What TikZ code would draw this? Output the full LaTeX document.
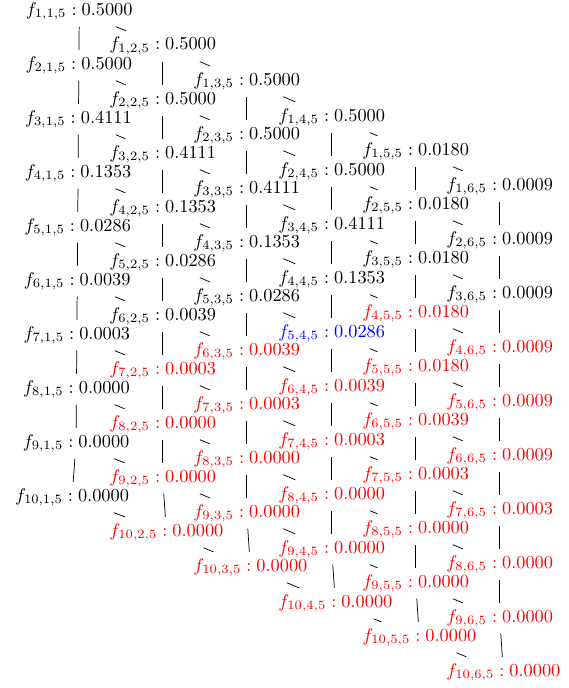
\documentclass[tikz,border=0pt]{standalone}
\usepackage{tikz}
\usepackage{amsmath}
\begin{document}
\begin{tikzpicture}[x=0.5464pt, y=-0.5464pt]
    \useasboundingbox (0,0) rectangle (568,688);
    % column 1 is right aligned, the others left aligned
    \foreach \i/\v/\c in {1/0.5000/black, 2/0.5000/black, 3/0.4111/black, 4/0.1353/black, 5/0.0286/black, 6/0.0039/black, 7/0.0003/black, 8/0.0000/black, 9/0.0000/black, 10/0.0000/black}
        \node[\c, anchor=base east] (f\i-1) at ({139-0.4*(\i-1)}, {15+54*(\i-1)}) {$f_{\i,1,5} : \v$};
    \foreach \i/\v/\c in {1/0.5000/black, 2/0.5000/black, 3/0.4111/black, 4/0.1353/black, 5/0.0286/black, 6/0.0039/black, 7/0.0003/red, 8/0.0000/red, 9/0.0000/red, 10/0.0000/red}
        \node[\c, anchor=base west] (f\i-2) at (103, {50+54*(\i-1)}) {$f_{\i,2,5} : \v$};
    \foreach \i/\v/\c in {1/0.5000/black, 2/0.5000/black, 3/0.4111/black, 4/0.1353/black, 5/0.0286/black, 6/0.0039/red, 7/0.0003/red, 8/0.0000/red, 9/0.0000/red, 10/0.0000/red}
        \node[\c, anchor=base west] (f\i-3) at (187, {85+54*(\i-1)}) {$f_{\i,3,5} : \v$};
    \foreach \i/\v/\c in {1/0.5000/black, 2/0.5000/black, 3/0.4111/black, 4/0.1353/black, 5/0.0286/blue, 6/0.0039/red, 7/0.0003/red, 8/0.0000/red, 9/0.0000/red, 10/0.0000/red}
        \node[\c, anchor=base west] (f\i-4) at (272, {121+54*(\i-1)}) {$f_{\i,4,5} : \v$};
    \foreach \i/\v/\c in {1/0.0180/black, 2/0.0180/black, 3/0.0180/black, 4/0.0180/red, 5/0.0180/red, 6/0.0039/red, 7/0.0003/red, 8/0.0000/red, 9/0.0000/red, 10/0.0000/red}
        \node[\c, anchor=base west] (f\i-5) at (356, {155+54*(\i-1)}) {$f_{\i,5,5} : \v$};
    \foreach \i/\v/\c in {1/0.0009/black, 2/0.0009/black, 3/0.0009/black, 4/0.0009/red, 5/0.0009/red, 6/0.0009/red, 7/0.0003/red, 8/0.0000/red, 9/0.0000/red, 10/0.0000/red}
        \node[\c, anchor=base west] (f\i-6) at (440, {190+54*(\i-1)}) {$f_{\i,6,5} : \v$};
    % links down a column and across to the next one
    \foreach \j in {1,...,6}
        \foreach \i [count=\k from 2] in {1,...,9}
            \draw (f\i-\j) -- (f\k-\j);
    \foreach \j [count=\k from 2] in {1,...,5}
        \foreach \i in {1,...,10}
            \draw (f\i-\j) -- (f\i-\k);
\end{tikzpicture}
\end{document}
